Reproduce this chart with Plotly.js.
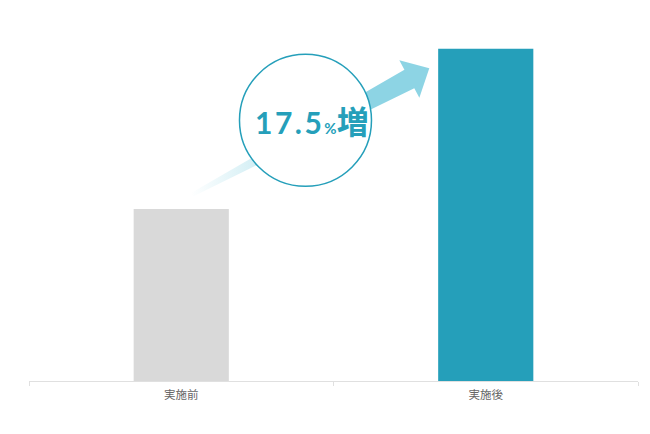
<!DOCTYPE html>
<html>
<head>
<meta charset="utf-8">
<script src="https://cdn.plot.ly/plotly-3.0.1.min.js"></script>
<style>
  html, body { margin: 0; padding: 0; background: #ffffff; }
  #chart { width: 650px; height: 434px; }
</style>
</head>
<body>
<div id="chart"></div>
<script>
  // データ
  var categories = ["実施前", "実施後"];
  var values = [100, 117.5];
  var barColors = ["#d9d9d9", "#259fba"];
  var increaseLabel = "17.5";

  var W = 650, H = 434;
  var M = { l: 29, r: 12, t: 20, b: 53 };
  var plotW = W - M.l - M.r;
  var plotH = H - M.t - M.b;

  // y軸はゼロ始まりではない（元図の見た目に合わせる）
  var yRange = [81.22, 120.63];

  /*
    矢印は paper 座標 (0..1) で持つ。
    太さの計算はピクセルで行って、最後に paper に戻す。
  */
  var arrowTail = [0.2677, 0.5161];
  var arrowTip = [0.6573, 0.8662];

  function toPx(p) { return [p[0] * plotW, p[1] * plotH]; }
  function toPaper(p) { return [p[0] / plotW, p[1] / plotH]; }

  function arrowPolygon() {
    var t = toPx(arrowTail), p = toPx(arrowTip);
    var dx = p[0] - t[0], dy = p[1] - t[1];
    var len = Math.sqrt(dx * dx + dy * dy);
    var d = [dx / len, dy / len];
    var n = [-d[1], d[0]];
    var headLen = 22.6, headHalf = 21.3, shaftHalf = 10.5, tailHalf = 2;
    var b = [p[0] - d[0] * headLen, p[1] - d[1] * headLen];

    function off(c, s) { return toPaper([c[0] + n[0] * s, c[1] + n[1] * s]); }

    var pts = [
      off(t, tailHalf),
      off(b, shaftHalf),
      off(b, headHalf),
      toPaper(p),
      off(b, -headHalf),
      off(b, -shaftHalf),
      off(t, -tailHalf)
    ];
    pts.push(pts[0]);

    return {
      x: pts.map(function (q) { return q[0]; }),
      y: pts.map(function (q) { return q[1]; })
    };
  }

  var arrow = arrowPolygon();

  var traces = [
    {
      type: "bar",
      x: categories,
      y: values,
      width: 0.3125,
      marker: { color: barColors, line: { width: 0 } },
      hoverinfo: "skip"
    },
    {
      type: "scatter",
      x: arrow.x,
      y: arrow.y,
      xaxis: "x2",
      yaxis: "y2",
      mode: "lines",
      line: { width: 0 },
      fill: "toself",
      fillgradient: {
        type: "horizontal",
        colorscale: [
          [0, "rgba(141,212,228,0)"],
          [0.25, "rgba(141,212,228,0.35)"],
          [0.6, "rgba(141,212,228,1)"],
          [1, "rgba(141,212,228,1)"]
        ]
      },
      hoverinfo: "skip",
      showlegend: false
    }
  ];

  var layout = {
    width: W,
    height: H,
    margin: M,
    showlegend: false,
    paper_bgcolor: "#ffffff",
    plot_bgcolor: "#ffffff",
    font: { family: "'Noto Sans CJK JP', sans-serif", color: "#666666" },

    xaxis: {
      type: "category",
      range: [-0.5, 1.5],
      tickson: "boundaries",
      ticks: "outside",
      ticklen: 4,
      tickwidth: 1,
      tickcolor: "#e0e0e0",
      showline: true,
      linecolor: "#e0e0e0",
      linewidth: 1,
      showgrid: false,
      zeroline: false,
      ticklabelstandoff: 3,
      tickfont: { size: 11.5, color: "#666666", family: "'Noto Sans CJK JP', sans-serif" },
      fixedrange: true
    },
    yaxis: {
      range: yRange,
      visible: false,
      fixedrange: true
    },
    xaxis2: { overlaying: "x", range: [0, 1], visible: false, fixedrange: true },
    yaxis2: { overlaying: "y", range: [0, 1], visible: false, fixedrange: true },

    shapes: [
      {
        type: "circle",
        layer: "above",
        xref: "paper",
        yref: "paper",
        xsizemode: "pixel",
        ysizemode: "pixel",
        xanchor: 0.454,
        yanchor: 0.722,
        x0: -66, x1: 66,
        y0: -66, y1: 66,
        fillcolor: "#ffffff",
        line: { color: "#259fba", width: 1.5 }
      }
    ],

    annotations: [
      {
        xref: "paper",
        yref: "paper",
        x: 0.465,
        y: 0.722,
        xanchor: "center",
        yanchor: "middle",
        showarrow: false,
        text: "<span style='letter-spacing:2.5px'>" + increaseLabel + "</span>" +
          "<span style='font-size:15px'>%</span>" +
          "<span style='font-family:\"Noto Sans CJK JP\"; font-size:32px'>増</span>",
        font: { family: "Lato, 'Noto Sans CJK JP', sans-serif", size: 30, color: "#259fba", weight: 700 }
      }
    ]
  };

  Plotly.newPlot("chart", traces, layout, { staticPlot: true, displayModeBar: false });
</script>
</body>
</html>
